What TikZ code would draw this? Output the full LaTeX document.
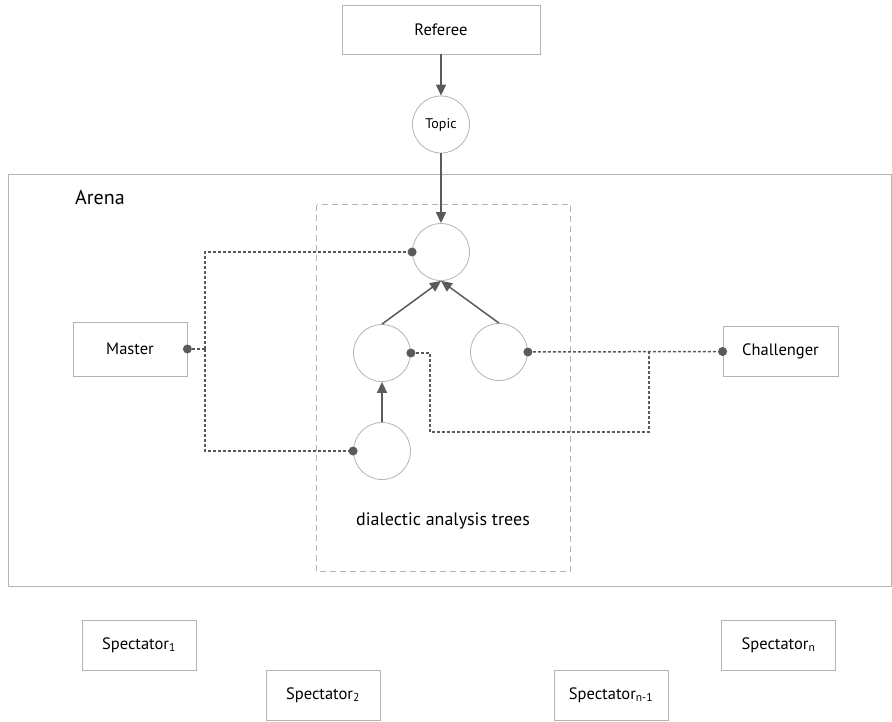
\documentclass[tikz,border=0pt]{standalone}
\usepackage{fontspec}
\setmainfont{PT Sans}
\usetikzlibrary{arrows.meta,positioning}
\definecolor{boxgray}{HTML}{B4B4B4}
\definecolor{linegray}{HTML}{5A5A5A}
\tikzset{
  rbox/.style={draw=boxgray, line width=0.8pt, fill=white, minimum width=#1, minimum height=50pt, inner sep=0pt, font=\fontsize{16.5}{18}\selectfont},
  rbox/.default=114pt,
  tnode/.style={circle, draw=boxgray, line width=0.8pt, fill=white, minimum size=57pt, inner sep=0pt},
  solidarrow/.style={draw=linegray, line width=1.5pt, -{Triangle[length=11pt,width=10pt]}},
  dotplain/.style={draw=linegray, line width=1.5pt, dash pattern=on 3pt off 2pt},
  enddot/.style={fill=linegray},
}
\begin{document}
\begin{tikzpicture}[x=1pt,y=-1pt]
\useasboundingbox (0,0) rectangle (892,721);
% arena
\draw[boxgray, line width=1pt] (8,174) rectangle (891,586);
\node[anchor=west, font=\fontsize{20}{22}\selectfont, inner sep=0pt] (arena) at (75,198) {Arena};
% dashed tree frame
\draw[boxgray, line width=0.9pt, dash pattern=on 6pt off 4pt] (316.5,204.5) rectangle (570.5,571);
\node[font=\fontsize{18}{20}\selectfont] (dat) at (443,521) {dialectic analysis trees};
% boxes
\node[rbox=198pt, minimum height=49pt] (referee) at (441,29.5) {Referee};
\node[tnode, font=\fontsize{14}{16}\selectfont] (topic) at (441,124.5) {Topic};
\node[tnode] (root) at (441,252) {};
\node[tnode] (ml) at (382,353) {};
\node[tnode] (mr) at (499,352) {};
\node[tnode] (bot) at (382,451) {};
\node[rbox=114pt, minimum height=54pt] (master) at (130,349) {Master};
\node[rbox=115pt] (chal) at (780.5,351.5) {Challenger};
\node[rbox] (s1) at (139,645) {Spectator\textsubscript{1}};
\node[rbox] (s2) at (323,695) {Spectator\textsubscript{2}};
\node[rbox] (sn1) at (611,695) {Spectator\textsubscript{n-1}};
\node[rbox] (sn) at (778.5,645) {Spectator\textsubscript{n}};
% solid arrows
\draw[solidarrow] (referee) -- (topic);
\draw[solidarrow] (topic) -- (root);
\draw[solidarrow] (ml.north) -- (root.south);
\draw[solidarrow] (mr.north) -- (root.south);
\draw[solidarrow] (bot) -- (ml);
% dotted connectors
\coordinate (mj) at (205,349);
\coordinate (cj) at (649,352);
\draw[dotplain] (master.east) -- (mj);
\draw[dotplain] (mj) |- (root.west);
\draw[dotplain] (mj) |- (bot.west);
\draw[dotplain] (mr.east) -- (chal.west);
\draw[dotplain] (ml.east) -| (430,432) -| (cj);
% end dots
\foreach \p in {master.east, root.west, bot.west, mr.east, chal.west, ml.east}
  \fill[enddot] (\p) circle (4.5pt);
\end{tikzpicture}
\end{document}
